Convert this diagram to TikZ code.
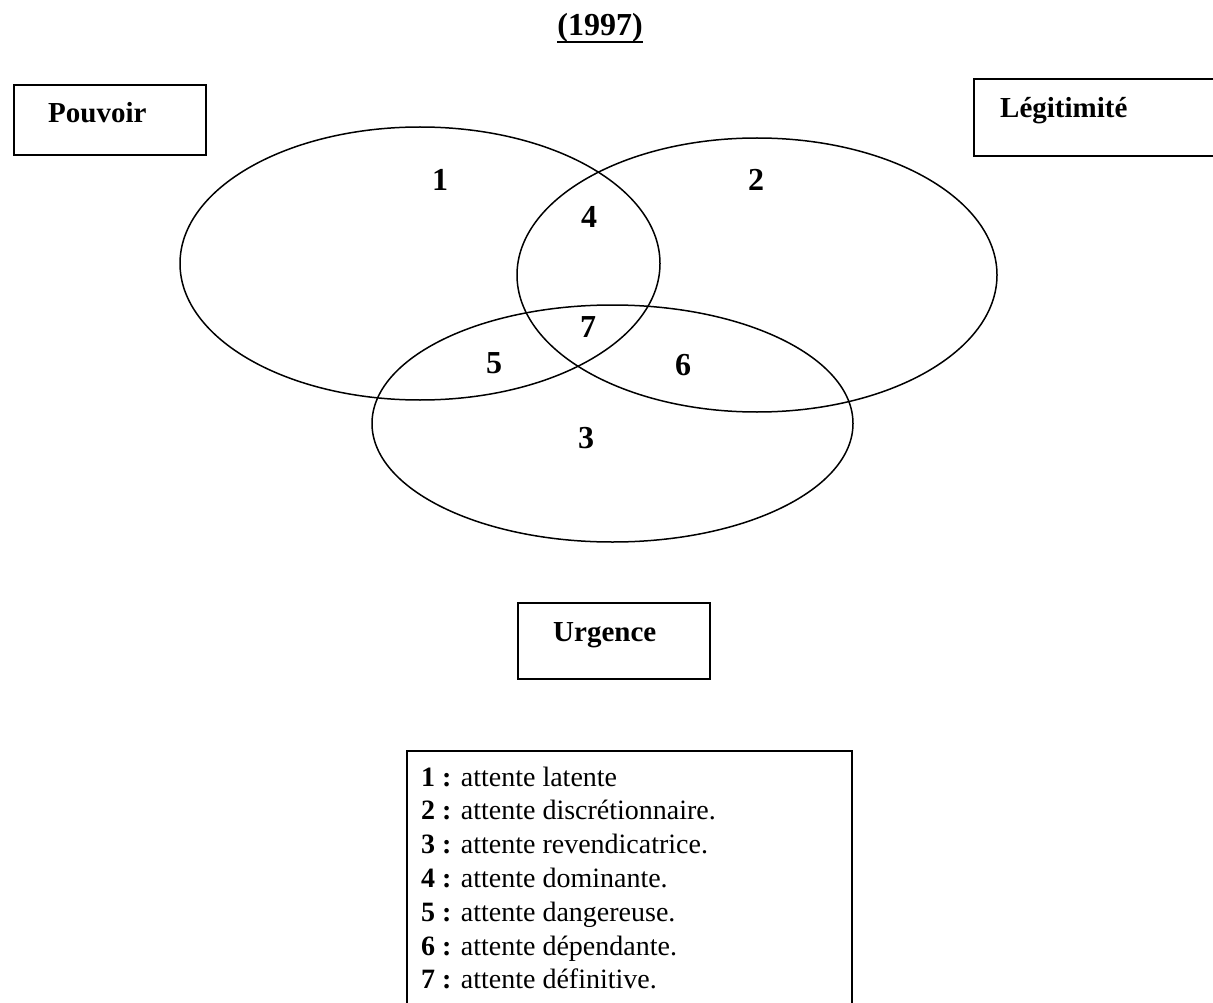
\documentclass[tikz,border=0pt]{standalone}
\usepackage{fontspec}
\setmainfont{Liberation Serif}
\usetikzlibrary{shapes.geometric}
\begin{document}
\begin{tikzpicture}[x=1pt,y=-1pt,
  setline/.style={draw, ellipse, line width=1.5pt, inner sep=0pt},
  boxframe/.style={draw, rectangle, line width=2pt, inner sep=0pt, anchor=north west},
  boxlabel/.style={font=\fontsize{29}{34}\selectfont\bfseries, inner sep=0pt, anchor=base west},
  zone/.style={font=\fontsize{32}{38}\selectfont\bfseries, inner sep=0pt},
  legitem/.style={font=\fontsize{28}{33.8}\selectfont, inner sep=0pt, anchor=base west},
]
\clip (0,0) rectangle (1213,1003);
\fill[white] (0,0) rectangle (1213,1003);

% title
\node[font=\fontsize{32}{38}\selectfont\bfseries, inner sep=0pt, anchor=base] (title) at (600,36) {(1997)};
\draw[line width=2.8pt] ([yshift=-6pt]title.base west) -- ([yshift=-6pt]title.base east);

% sets
\node[setline, minimum width=480pt, minimum height=273pt] (P) at (420,263.5) {};
\node[setline, minimum width=480pt, minimum height=274pt] (L) at (757,275) {};
\node[setline, minimum width=481pt, minimum height=237pt] (U) at (612.5,423.5) {};

% boxes
\node[boxframe, minimum width=192pt, minimum height=70pt] (Pbox) at (13,84) {};
\node[boxframe, minimum width=250pt, minimum height=77pt] (Lbox) at (973,78) {};
\node[boxframe, minimum width=192pt, minimum height=76pt] (Ubox) at (517,602) {};
\node[boxlabel] (Ptxt) at (48,123) {Pouvoir};
\node[boxlabel] (Ltxt) at (1000,118) {Légitimité};
\node[boxlabel] (Utxt) at (553,641) {Urgence};

% zones
\node[zone] (z1) at (440,180) {1};
\node[zone] (z2) at (756,180) {2};
\node[zone] (z4) at (589,217) {4};
\node[zone] (z7) at (588,327) {7};
\node[zone] (z5) at (494,363) {5};
\node[zone] (z6) at (683,365) {6};
\node[zone] (z3) at (586,438) {3};

% legend
\draw[line width=2pt] (407,1010) -- (407,751) -- (852,751) -- (852,1010);
\foreach \n/\t [count=\i from 0] in {1/attente latente, 2/attente discrétionnaire., 3/attente revendicatrice., 4/attente dominante., 5/attente dangereuse., 6/attente dépendante., 7/attente définitive.}
  \node[legitem] (leg\n) at (421,{786+33.8*\i}) {\textbf{\n\ :} \t};
\end{tikzpicture}
\end{document}
